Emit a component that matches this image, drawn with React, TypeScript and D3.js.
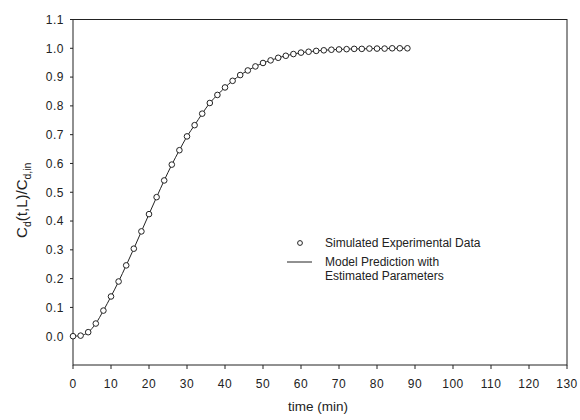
import React from 'react';
import * as d3 from 'd3';

// sampling times (min)
const times = [
  0, 2, 4, 6, 8, 10, 12, 14, 16, 18, 20, 22, 24, 26, 28, 30, 32, 34, 36, 38, 40, 42,
  44, 46, 48, 50, 52, 54, 56, 58, 60, 62, 64, 66, 68, 70, 72, 74, 76, 78, 80, 82, 84, 86, 88,
];

// simulated experimental data Cd(t,L)/Cd,in
const simulated = [
  0.0, 0.002, 0.014, 0.044, 0.089, 0.138, 0.19, 0.246, 0.304, 0.364, 0.424, 0.483,
  0.541, 0.596, 0.646, 0.694, 0.733, 0.773, 0.81, 0.838, 0.864, 0.887, 0.907, 0.923,
  0.937, 0.949, 0.958, 0.967, 0.974, 0.98, 0.985, 0.988, 0.991, 0.993, 0.995, 0.996,
  0.997, 0.998, 0.998, 0.999, 0.999, 0.999, 1.0, 1.0, 1.0,
];

// model prediction with estimated parameters
const model = [
  0.0, 0.002, 0.014, 0.044, 0.089, 0.138, 0.19, 0.246, 0.304, 0.364, 0.424, 0.483,
  0.541, 0.596, 0.646, 0.694, 0.733, 0.773, 0.81, 0.838, 0.864, 0.887, 0.907, 0.923,
  0.937, 0.949, 0.958, 0.967, 0.974, 0.98, 0.985, 0.988, 0.991, 0.993, 0.995, 0.996,
  0.997, 0.998, 0.998, 0.999, 0.999, 0.999, 1.0, 1.0, 1.0,
];

const xTicks = [0, 10, 20, 30, 40, 50, 60, 70, 80, 90, 100, 110, 120, 130];
const yTicks = [0.0, 0.1, 0.2, 0.3, 0.4, 0.5, 0.6, 0.7, 0.8, 0.9, 1.0, 1.1];

const font = '"Liberation Sans", Arial, sans-serif';
const ink = '#222';

export default function App() {
  const left = 73;
  const right = 567;
  const top = 19.5;
  const bottom = 365;

  const x = d3.scaleLinear().domain([0, 130]).range([left, right]);
  const y = d3.scaleLinear().domain([-0.1, 1.1]).range([bottom, top]);

  const line = d3
    .line<number>()
    .x((_, i) => x(times[i]))
    .y((d) => y(d))
    .curve(d3.curveMonotoneX);

  return (
    <svg
      width={580}
      height={420}
      style={{ position: 'absolute', left: 0, top: 0, background: '#fff' }}
      fontFamily={font}
    >
      {/* frame */}
      <rect x={left} y={top} width={right - left} height={bottom - top} fill="none" stroke={ink} strokeWidth={1} />

      {/* y ticks */}
      {yTicks.map((t) => (
        <g key={'y' + t}>
          <line x1={left - 3} x2={left} y1={y(t)} y2={y(t)} stroke={ink} />
          <text
            x={left - 9}
            y={y(t)}
            dy="0.36em"
            textAnchor="end"
            fontSize={12}
            letterSpacing={0.5}
            fill={ink}
          >
            {d3.format('.1f')(t)}
          </text>
        </g>
      ))}

      {/* x ticks */}
      {xTicks.map((t) => (
        <g key={'x' + t}>
          <line x1={x(t)} x2={x(t)} y1={bottom} y2={bottom + 4} stroke={ink} />
          <text x={x(t)} y={388} textAnchor="middle" fontSize={12} letterSpacing={0.5} fill={ink}>
            {t}
          </text>
        </g>
      ))}

      {/* axis titles */}
      <text x={(left + right) / 2 - 2} y={411} textAnchor="middle" fontSize={13.5} fill={ink}>
        time (min)
      </text>
      <text
        transform={`translate(27,${y(0.5) + 8}) rotate(-90)`}
        textAnchor="middle"
        fontSize={15}
        fill={ink}
      >
        <tspan>C</tspan>
        <tspan fontSize={10.5} dy={4}>d</tspan>
        <tspan dy={-4}>(t,L)/C</tspan>
        <tspan fontSize={10.5} dy={4}>d,in</tspan>
      </text>

      {/* model line */}
      <path d={line(model) ?? ''} fill="none" stroke={ink} strokeWidth={1} />

      {/* simulated points */}
      {simulated.map((v, i) => (
        <circle key={i} cx={x(times[i])} cy={y(v)} r={2.8} fill="#fff" stroke={ink} strokeWidth={1} />
      ))}

      {/* legend */}
      <circle cx={300} cy={243} r={2.4} fill="#fff" stroke={ink} strokeWidth={1} />
      <text x={325} y={247} fontSize={12} fill={ink}>
        Simulated Experimental Data
      </text>
      <line x1={287} x2={312} y1={262} y2={262} stroke={ink} strokeWidth={1} />
      <text x={325} y={266} fontSize={12} fill={ink}>
        Model Prediction with
      </text>
      <text x={325} y={280} fontSize={12} fill={ink}>
        Estimated Parameters
      </text>
    </svg>
  );
}
